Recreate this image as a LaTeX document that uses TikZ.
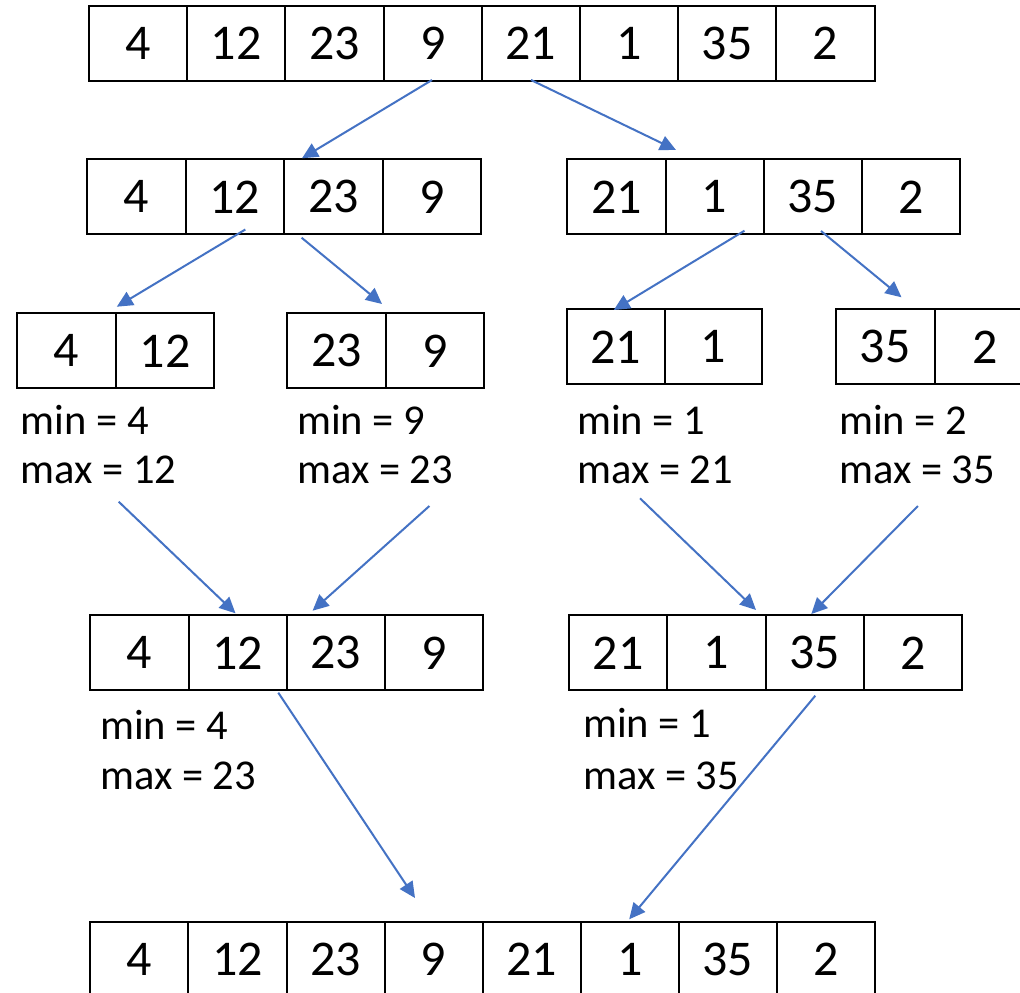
\documentclass[tikz,border=0pt]{standalone}
\usepackage{fontspec}
\setmainfont{Carlito}
\usetikzlibrary{arrows.meta}
\definecolor{arrowblue}{HTML}{4472C4}
\newcommand{\cellfont}{\fontsize{50}{50}\selectfont}
\newcommand{\infofont}{\fontsize{42.5}{42.5}\selectfont}
\tikzset{
  cell/.style={draw=black, line width=2pt, minimum height=75pt, inner sep=0pt,
    anchor=north west, font=\cellfont},
  arr/.style={draw=arrowblue, line width=2pt, -{Triangle[length=16pt,width=15pt]}},
  info/.style={anchor=base west, font=\infofont, inner sep=0pt}
}
% #1 prefix, #2 x0, #3 y0, #4 cell width, #5 list of values
\newcommand{\cellrow}[5]{%
  \foreach \v [count=\i] in {#5} {
    \node[cell, minimum width=#4pt] (#1\i) at ({#2+(\i-1)*#4}, #3) {\v};
  }%
}
\begin{document}
\begin{tikzpicture}[x=1pt,y=-1pt]
\useasboundingbox (0,0) rectangle (1020,993);
\clip (0,0) rectangle (1020,993);
\fill[white] (0,0) rectangle (1020,993);

% rows of cells
\cellrow{a}{88}{5}{98.2}{4,12,23,9,21,1,35,2}
\cellrow{bl}{86.3}{158.3}{98.45}{4,12,23,9}
\cellrow{br}{566.4}{158.3}{98.1}{21,1,35,2}
\cellrow{ca}{16.3}{312.4}{98.5}{4,12}
\cellrow{cb}{286.3}{312.4}{98.3}{23,9}
\cellrow{cc}{566}{308.3}{97.6}{21,1}
\cellrow{cd}{834.5}{308.3}{99.5}{35,2}
\cellrow{dl}{89.3}{614.3}{98.2}{4,12,23,9}
\cellrow{dr}{568.2}{614.3}{98.15}{21,1,35,2}
\cellrow{e}{89.3}{920.7}{98.1}{4,12,23,9,21,1,35,2}

% min / max labels
\node[info] (ta1) at (20.5,434) {min = 4};
\node[info] (ta2) at (20.5,483.5) {max = 12};
\node[info] (tb1) at (297,434) {min = 9};
\node[info] (tb2) at (297,483.5) {max = 23};
\node[info] (tc1) at (577,434) {min = 1};
\node[info] (tc2) at (577,483.5) {max = 21};
\node[info] (td1) at (839,434) {min = 2};
\node[info] (td2) at (839,483.5) {max = 35};
\node[info] (tl1) at (100,739) {min = 4};
\node[info] (tl2) at (100,789.5) {max = 23};
\node[info] (tr1) at (583,737.5) {min = 1};
\node[info] (tr2) at (583,789) {max = 35};

% arrow end points
\coordinate (s1) at (432,80);     \coordinate (t1) at (302,158.3);
\coordinate (s2) at (531,80);     \coordinate (t2) at (676,150);
\coordinate (s3) at (245.3,229.5);\coordinate (t3) at (116.8,306.7);
\coordinate (s4) at (301.6,237.7);\coordinate (t4) at (382,304);
\coordinate (s5) at (744.5,230.7);\coordinate (t5) at (613.8,310);
\coordinate (s6) at (821,231);    \coordinate (t6) at (901.5,297.3);
\coordinate (s7) at (118.7,501.7);\coordinate (t7) at (235.5,613.3);
\coordinate (s8) at (429.4,506);  \coordinate (t8) at (312.6,610.7);
\coordinate (s9) at (640,498.3);  \coordinate (t9) at (756,610);
\coordinate (s10) at (917.9,506); \coordinate (t10) at (811.3,614);
\coordinate (s11) at (278.3,692.7);\coordinate (t11) at (415,898);
\coordinate (s12) at (815.3,695.7);\coordinate (t12) at (629.2,919.3);

\foreach \k in {1,...,12} { \draw[arr] (s\k) -- (t\k); }
\end{tikzpicture}
\end{document}
